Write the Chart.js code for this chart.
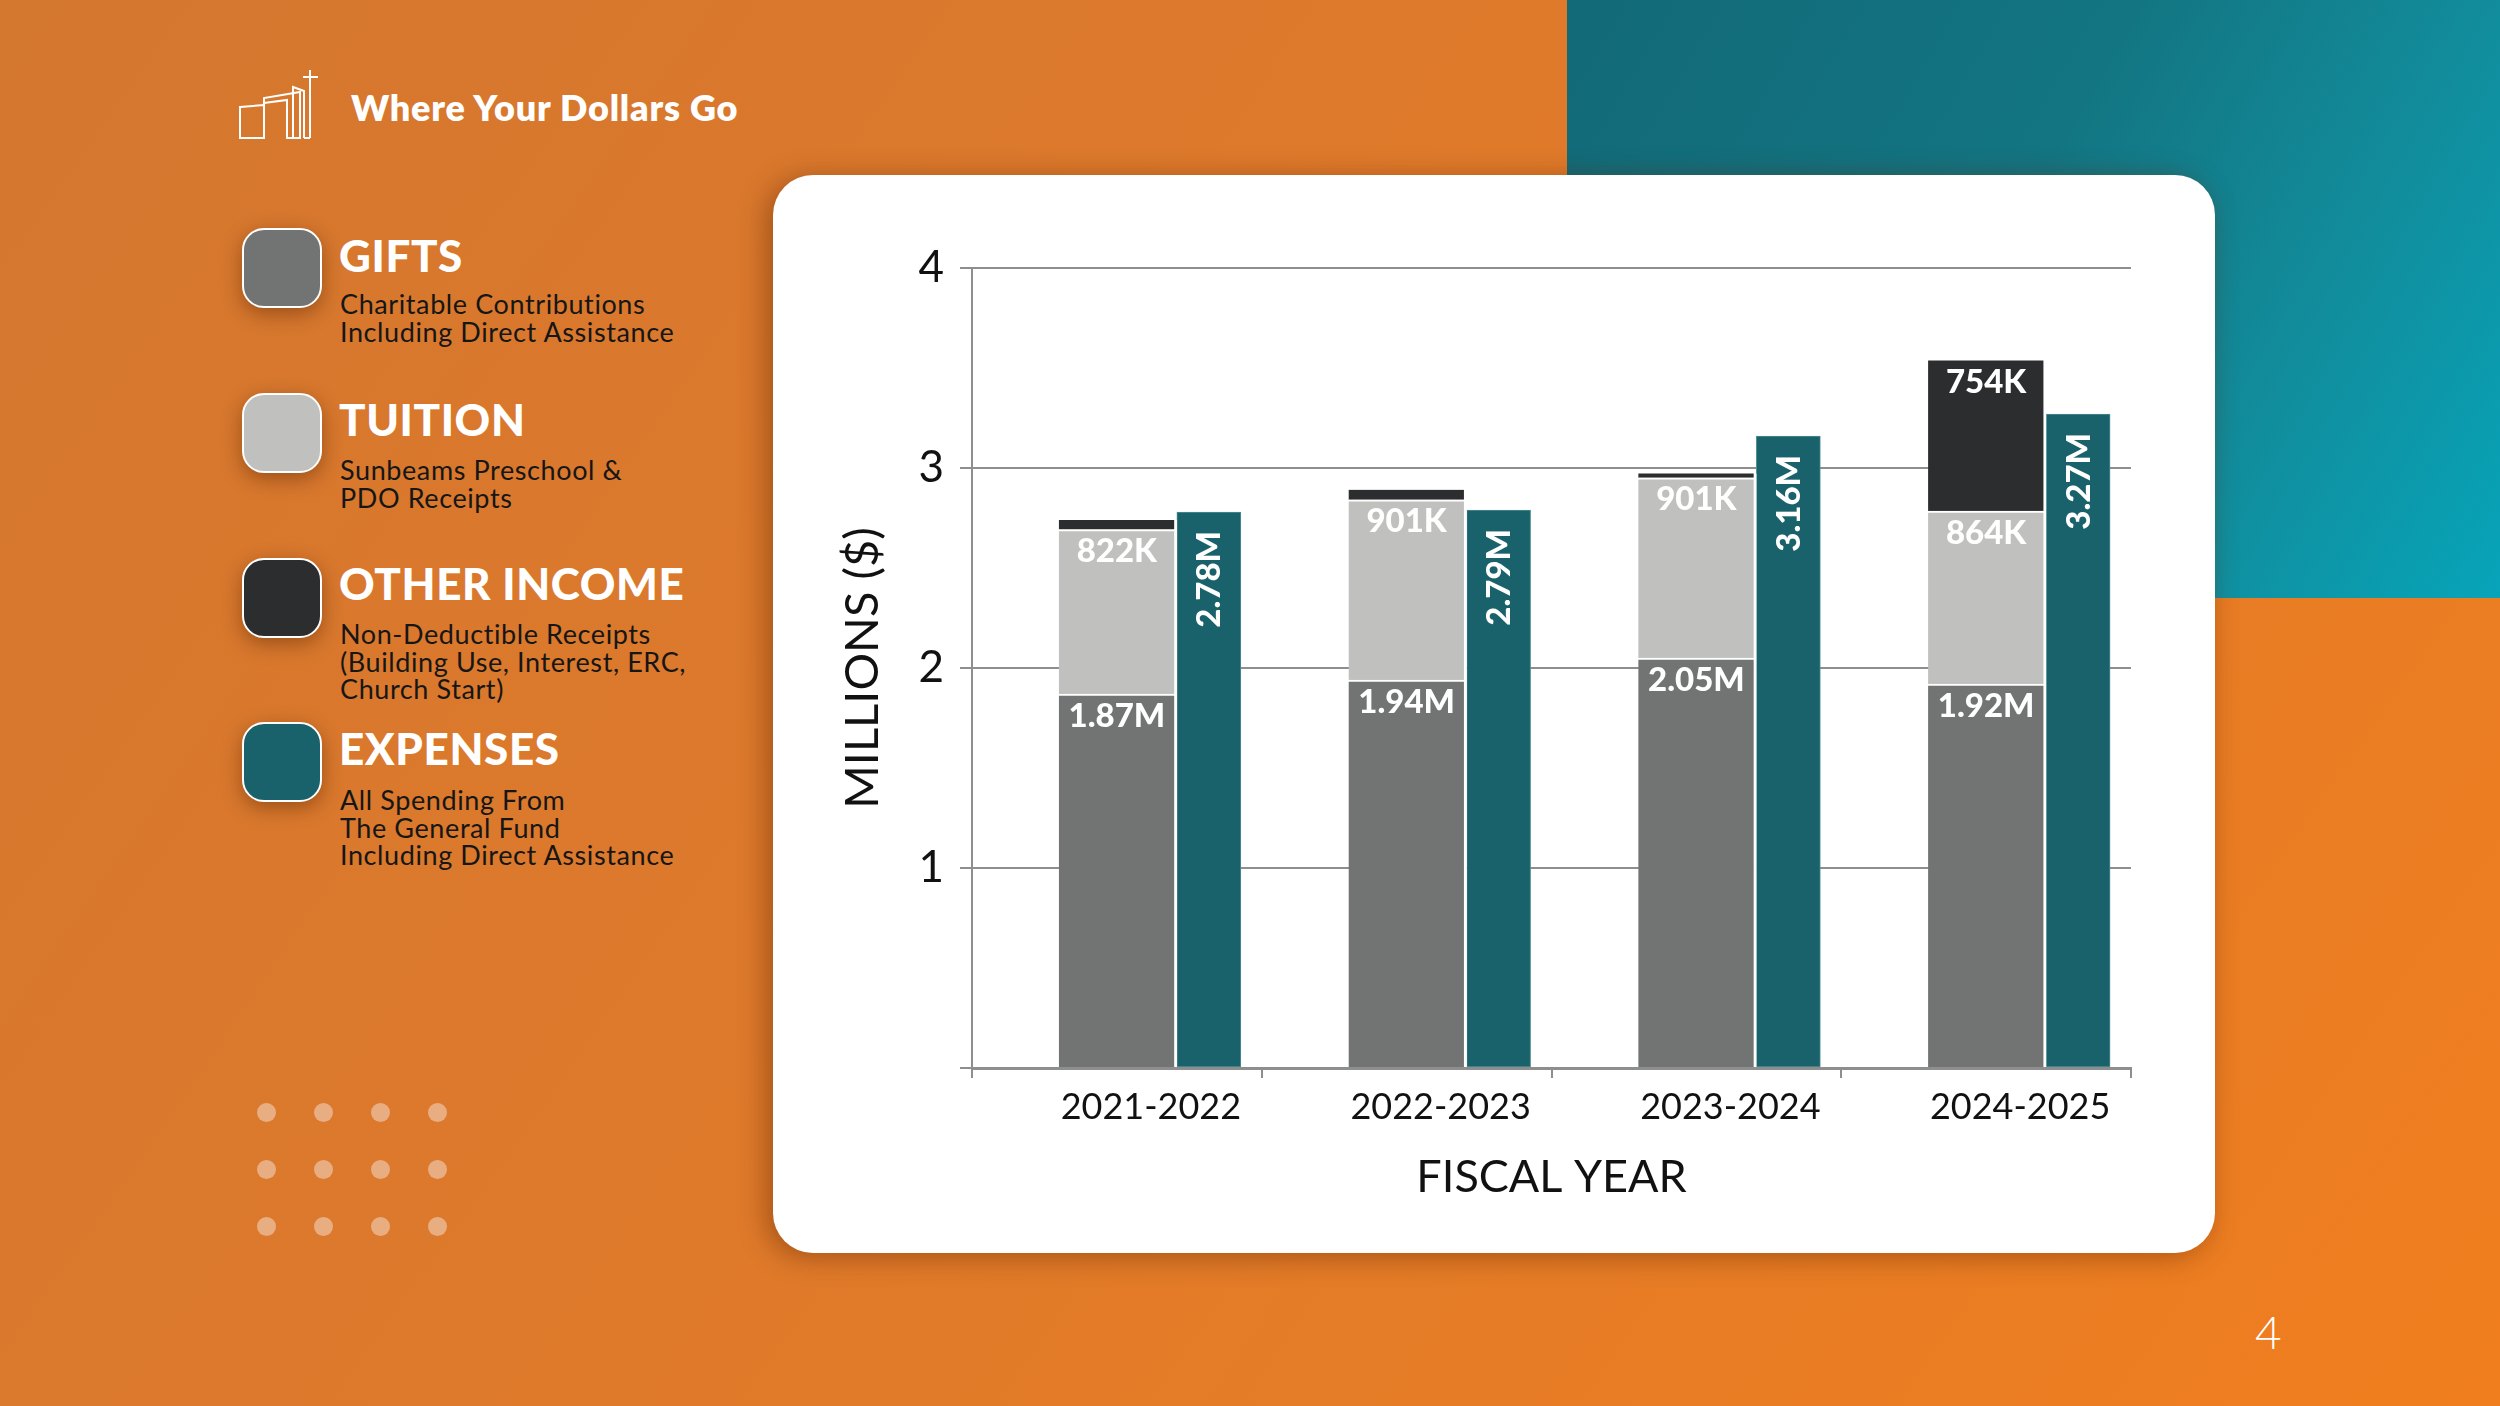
<!DOCTYPE html>
<html>
<head>
<meta charset="utf-8">
<script src="https://cdn.jsdelivr.net/npm/chart.js@4.4.1/dist/chart.umd.min.js"></script>
<style>
  html, body { margin: 0; padding: 0; }
  body { width: 2500px; height: 1406px; position: relative; overflow: hidden;
    background: linear-gradient(125deg, #D4772F 0%, #DC792C 35%, #E67C26 70%, #F07E1E 100%);
    font-family: Lato, "Open Sans", sans-serif; }
  #teal { position: absolute; left: 1567px; top: 0; width: 933px; height: 598px;
    background: linear-gradient(120deg, #126977 0%, #137582 45%, #128A99 70%, #07A4B9 100%); }
  #card { position: absolute; left: 773px; top: 175px; width: 1442px; height: 1078px;
    background: #fff; border-radius: 40px; box-shadow: -6px 4px 28px rgba(90,35,0,0.45); }
  #chartCanvas { position: absolute; left: 773px; top: 175px; }
  .title { position: absolute; left: 351px; top: 85px; color: #fff; font-weight: 800; font-size: 36px; letter-spacing: 0.8px; }
  .sw { position: absolute; left: 242px; width: 76px; height: 76px; border: 2px solid #fff;
    border-radius: 22px; box-shadow: 0 6px 20px rgba(80,30,0,0.45); }
  .lt { position: absolute; left: 339px; color: #fff; font-weight: 900; font-size: 44px; line-height: 54px; letter-spacing: 0.6px; }
  .ld { position: absolute; left: 340px; color: #161616; font-size: 27px; line-height: 27.5px; letter-spacing: 0.6px; }
  .dot { position: absolute; width: 19px; height: 19px; border-radius: 50%; background: #E9AD82; }
  #pg { position: absolute; left: 2255px; top: 1304px; color: #fff; font-size: 46px; font-weight: 300; }
  #logo { position: absolute; left: 230px; top: 60px; }
</style>
</head>
<body>
<div id="teal"></div>
<svg id="logo" width="110" height="90" viewBox="0 0 110 90">
  <g fill="none" stroke="#fff" stroke-width="2">
    <path d="M10 47 L34 45 L34 78 L10 78 Z"/>
    <path d="M34 45 L34 38 L70 32 L70 78 L57 78 L57 40 L34 43"/>
    <path d="M63 78 L63 27 L74 31 L74 78"/>
    <path d="M80 78 L80 10"/>
    <path d="M73 17 L88 17"/>
    <path d="M80 78 L74 78"/>
  </g>
</svg>
<div class="title">Where Your Dollars Go</div>

<div class="sw" style="top:228px;background:#727473"></div>
<div class="lt" style="top:228px">GIFTS</div>
<div class="ld" style="top:290px">Charitable Contributions<br>Including Direct Assistance</div>

<div class="sw" style="top:393px;background:#C0C1BF"></div>
<div class="lt" style="top:392px">TUITION</div>
<div class="ld" style="top:456px">Sunbeams Preschool &amp;<br>PDO Receipts</div>

<div class="sw" style="top:558px;background:#2C2D2F"></div>
<div class="lt" style="top:556px">OTHER INCOME</div>
<div class="ld" style="top:620px">Non-Deductible Receipts<br>(Building Use, Interest, ERC,<br>Church Start)</div>

<div class="sw" style="top:722px;background:#1A626B"></div>
<div class="lt" style="top:721px">EXPENSES</div>
<div class="ld" style="top:786px">All Spending From<br>The General Fund<br>Including Direct Assistance</div>

<div id="dots"></div>
<div id="card"></div>
<canvas id="chartCanvas" width="1442" height="1078"></canvas>
<div id="pg">4</div>

<script>
// ---- data ----
const categories = ['2021-2022', '2022-2023', '2023-2024', '2024-2025'];
const gifts = [1.87, 1.94, 2.05, 1.92];
const tuition = [0.822, 0.901, 0.901, 0.864];
const otherIncome = [0.048, 0.05, 0.022, 0.754];
const expenses = [2.78, 2.79, 3.16, 3.27];
const yTicks = [0, 1, 2, 3, 4];

// decorative dots
const dotsEl = document.getElementById('dots');
[0,1,2].forEach(r => [0,1,2,3].forEach(c => {
  const d = document.createElement('div');
  d.className = 'dot';
  d.style.left = (257 + c * 57) + 'px';
  d.style.top = (1103 + r * 57) + 'px';
  dotsEl.appendChild(d);
}));

const toXY = arr => arr.map((v, i) => ({ x: i, y: v }));
const fmt = v => v >= 1 ? v.toFixed(2) + 'M' : Math.round(v * 1000) + 'K';

const labelPlugin = {
  id: 'barLabels',
  afterDatasetsDraw(chart) {
    const ctx = chart.ctx;
    ctx.save();
    ctx.fillStyle = '#ffffff';
    ctx.font = '900 33px Lato, "Open Sans", sans-serif';
    chart.data.datasets.forEach((ds, di) => {
      const meta = chart.getDatasetMeta(di);
      meta.data.forEach((bar, i) => {
        const v = ds.data[i].y;
        if (v < 0.1) return;
        const p = bar.getProps(['x', 'y', 'base', 'width'], true);
        if (ds.rotateLabel) {
          ctx.save();
          ctx.translate(p.x, p.y + 19);
          ctx.rotate(-Math.PI / 2);
          ctx.textAlign = 'right';
          ctx.textBaseline = 'middle';
          ctx.fillText(fmt(v), 0, 1);
          ctx.restore();
        } else {
          ctx.textAlign = 'center';
          ctx.textBaseline = 'middle';
          ctx.fillText(fmt(v), p.x - 1, p.y + 22);
        }
      });
    });
    ctx.restore();
  }
};

const stackBorder = { top: 2, right: 3, bottom: 0, left: 0 };
const gridCol = '#8E8E8E';

new Chart(document.getElementById('chartCanvas'), {
  type: 'bar',
  data: {
    labels: categories,
    datasets: [
      { label: 'Gifts', data: toXY(gifts), backgroundColor: '#727473', stack: 'income',
        xAxisID: 'xb', barThickness: 118, borderColor: '#ffffff', borderWidth: stackBorder, borderSkipped: false },
      { label: 'Tuition', data: toXY(tuition), backgroundColor: '#C0C1BF', stack: 'income',
        xAxisID: 'xb', barThickness: 118, borderColor: '#ffffff', borderWidth: stackBorder, borderSkipped: false },
      { label: 'Other Income', data: toXY(otherIncome), backgroundColor: '#2C2D2F', stack: 'income',
        xAxisID: 'xb', barThickness: 118, borderColor: '#ffffff', borderWidth: { top: 0, right: 3, bottom: 0, left: 0 }, borderSkipped: false },
      { label: 'Expenses', data: toXY(expenses), backgroundColor: '#1A626B', stack: 'exp', rotateLabel: true,
        xAxisID: 'xb', barThickness: 64, borderColor: '#4E8E95', borderWidth: 1, borderSkipped: false }
    ]
  },
  options: {
    responsive: false,
    animation: false,
    devicePixelRatio: 1,
    layout: { padding: { top: 93, right: 84, left: 0, bottom: 0 } },
    plugins: { legend: { display: false }, tooltip: { enabled: false } },
    scales: {
      x: {
        type: 'category',
        position: 'bottom',
        offset: true,
        afterFit: s => { s.height = 185; },
        grid: { offset: true, drawOnChartArea: false, drawTicks: true, tickLength: 10, color: gridCol, lineWidth: 2 },
        border: { display: true, color: gridCol, width: 3 },
        ticks: { color: '#111', font: { family: 'Lato', size: 36, lineHeight: 1.2 }, padding: 8, labelOffset: 34, maxRotation: 0 },
        title: { display: true, text: 'FISCAL YEAR', color: '#111', font: { family: 'Lato', size: 45, lineHeight: 1.2 }, padding: { top: 0, bottom: 49 } }
      },
      xb: {
        type: 'linear',
        display: false,
        offset: false,
        min: -0.5 - 0.207,
        max: 3.5 - 0.207
      },
      y: {
        type: 'linear',
        position: 'left',
        stacked: true,
        min: 0,
        max: 4,
        afterFit: s => { s.width = 199; },
        afterBuildTicks: s => { s.ticks = yTicks.map(v => ({ value: v })); },
        grid: { color: gridCol, lineWidth: 2, tickLength: 12, drawTicks: true },
        border: { display: true, color: gridCol, width: 2 },
        ticks: { color: '#111', font: { family: 'Lato', size: 44, lineHeight: 1.2 }, padding: 16,
          callback: v => v === 0 ? '' : String(v) },
        title: { display: true, text: 'MILLIONS ($)', color: '#111', font: { family: 'Lato', size: 47, lineHeight: 1.2 }, padding: { top: 62, bottom: 0 } }
      }
    }
  },
  plugins: [labelPlugin]
});
</script>
</body>
</html>
